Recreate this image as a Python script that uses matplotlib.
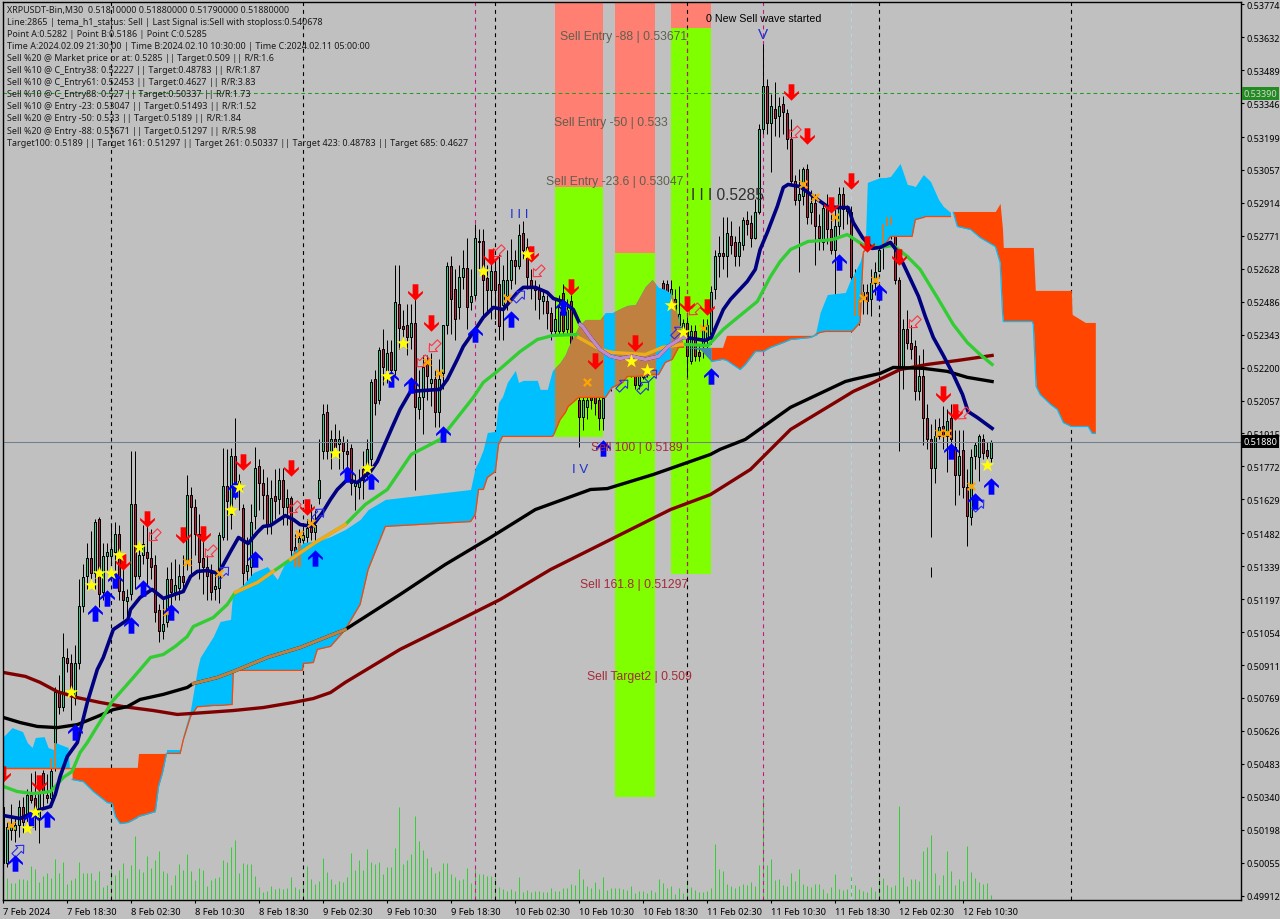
import numpy as np
import matplotlib
matplotlib.use("Agg")
import matplotlib.pyplot as plt
from matplotlib.path import Path
from matplotlib.patches import Rectangle
from matplotlib.transforms import Affine2D

# all prices are kept in points (1e-5), bars count from 7 Feb 2024 10:30 at 30 minutes
opens = [50298,50055,50198,50198,50220,50298,50255,50350,50333,50250,50445,50350,50337,50467,50796,50731,50940,50922,50770,50918,
         51165,51295,51373,51312,51542,51226,51382,51382,51399,51481,51230,51187,51221,51611,51295,51390,51399,51373,51343,51148,
         51057,51096,51282,51226,51247,51299,51356,51650,51594,51477,51373,51338,51312,51239,51247,51468,51689,51564,51815,51681,
         51590,51317,51338,51555,51772,51702,51650,51520,51642,51629,51711,51598,51633,51421,51338,51455,51468,51520,51486,51637,
         51837,52010,51837,51893,51871,51876,51837,51850,51685,51681,51759,51746,51802,52149,52062,52279,52192,52266,52192,52474,
         52379,52383,52335,52392,52019,52075,52214,52132,52149,52010,52179,52383,52639,52543,52461,52591,52630,52483,52517,52751,
         52747,52587,52535,52621,52561,52470,52509,52582,52665,52639,52782,52725,52582,52548,52535,52487,52487,52439,52357,52357,
         52522,52366,52487,52257,52062,51988,52028,52084,52071,52062,51980,52097,52127,52149,52184,52214,52201,52236,52170,52127,
         52158,52201,52192,52257,52257,52569,52561,52496,52496,52387,52374,52392,52227,52357,52266,52292,52322,52344,52539,52682,
         52699,52682,52769,52743,52686,52730,52838,52829,52764,52873,53233,53419,53259,53319,53289,53341,53302,53189,53007,52925,
         52942,53059,52873,52912,52812,52743,52894,52799,52712,52812,52951,52877,52873,52591,52422,52496,52530,52496,52569,52617,
         52725,52851,52851,52808,52582,52201,52366,52309,52292,52097,52162,51980,51893,51763,51902,51949,51902,51980,51858,51733,
         51841,51681,51551,51815,51811,51893,51841,51810]
highs = [50320,50229,50307,50250,50328,50341,50372,50445,50450,50372,50458,50437,50502,50814,50870,51052,50987,50957,51000,51282,
         51347,51442,51490,51546,51551,51442,51442,51520,51529,51520,51390,51239,51837,51837,51421,51520,51512,51499,51390,51174,
         51208,51334,51356,51369,51347,51390,51733,51681,51629,51564,51486,51390,51347,51304,51486,51854,51846,51854,51984,51737,
         51607,51468,51607,51858,51802,51759,51724,51715,51759,51767,51767,51672,51642,51477,51499,51520,51542,51607,51585,51889,
         52041,52041,51932,51954,51932,51902,51889,51871,51737,51759,51837,51889,52149,52192,52288,52366,52322,52322,52647,52647,
         52452,52474,52474,52496,52192,52257,52257,52262,52192,52236,52387,52656,52682,52626,52647,52712,52764,52626,52821,52799,
         52799,52647,52712,52669,52691,52647,52712,52756,52712,52821,52834,52764,52626,52582,52561,52539,52517,52461,52496,52517,
         52561,52496,52517,52279,52257,52127,52084,52127,52136,52106,52127,52179,52205,52236,52244,52257,52322,52331,52331,52257,
         52214,52227,52270,52301,52366,52582,52582,52582,52539,52552,52409,52418,52387,52387,52301,52409,52409,52552,52712,52769,
         52855,52855,52834,52769,52812,52851,52877,52860,52929,53254,53601,53449,53384,53440,53371,53376,53319,53276,53037,53059,
         53068,53081,52972,52951,52864,52907,52951,52864,52886,52981,52981,52907,52899,52626,52582,52561,52561,52626,52660,52864,
         52864,52886,52877,52821,52591,52409,52452,52387,52322,52257,52279,52041,51954,51976,51984,52032,52019,52041,51932,51932,
         51932,51759,51846,51880,51911,51911,51876,51885]
lows = [50025,50034,50155,50146,50168,50185,50229,50315,50198,50142,50298,50315,50298,50450,50697,50710,50883,50675,50740,50892,
        51143,51239,51282,51239,51161,51195,51325,51347,51325,51195,51109,51109,51195,51239,51282,51347,51252,51282,51096,51013,
        51022,51074,51143,51195,51195,51230,51325,51304,51390,51282,51217,51195,51195,51195,51182,51455,51455,51499,51629,51585,
        51217,51239,51273,51499,51585,51542,51477,51477,51542,51564,51520,51520,51325,51325,51317,51412,51412,51455,51434,51607,
        51802,51802,51759,51824,51759,51759,51715,51650,51585,51629,51629,51715,51759,51997,52041,52127,52132,52149,52170,52279,
        52301,52257,52279,51668,51976,51911,52062,52036,51945,51945,52106,52344,52344,52322,52409,52539,52366,52452,52496,52626,
        52409,52431,52409,52409,52322,52322,52452,52539,52561,52626,52669,52539,52496,52452,52409,52431,52366,52322,52344,52344,
        52344,52344,52236,52084,51858,51932,51976,52019,51997,51932,51932,52084,52097,52127,52149,52158,52184,52158,52106,52106,
        52149,52158,52170,52192,52236,52301,52409,52452,52366,52366,52344,52158,52214,52227,52227,52244,52279,52301,52496,52595,
        52626,52595,52691,52639,52639,52712,52777,52721,52756,52864,53211,53211,53046,53202,53198,53211,53146,52994,52907,52613,
        52907,52821,52821,52647,52712,52712,52734,52691,52452,52777,52799,52821,52353,52409,52387,52431,52431,52426,52517,52617,
        52626,52756,52756,52561,51837,52106,52279,52236,52062,52062,51867,51846,51468,51702,51889,51846,51746,51824,51603,51650,
        51637,51425,51520,51759,51707,51802,51789,51790]
closes = [50055,50211,50220,50216,50298,50233,50350,50328,50255,50359,50359,50337,50450,50796,50731,50948,50922,50775,50922,51165,
          51291,51373,51308,51529,51217,51382,51399,51412,51481,51230,51195,51208,51611,51295,51390,51434,51373,51338,51143,51057,
          51091,51282,51226,51260,51295,51269,51650,51598,51477,51356,51338,51295,51226,51252,51473,51685,51624,51815,51702,51707,
          51312,51343,51529,51763,51698,51646,51512,51633,51620,51711,51598,51633,51408,51356,51460,51473,51507,51486,51520,51711,
          52001,51837,51893,51858,51893,51837,51824,51702,51702,51715,51715,51846,52140,52049,52275,52201,52262,52192,52483,52370,
          52366,52335,52392,52028,52071,52205,52162,52149,52010,52149,52383,52639,52496,52409,52591,52634,52461,52509,52760,52743,
          52578,52535,52617,52535,52379,52582,52582,52665,52639,52773,52712,52591,52552,52535,52496,52509,52439,52357,52409,52465,
          52357,52452,52257,52149,51988,52062,52062,52062,52049,51980,52067,52127,52149,52192,52214,52192,52236,52170,52127,52170,
          52184,52170,52236,52214,52322,52539,52517,52539,52409,52431,52392,52249,52357,52249,52249,52379,52387,52530,52682,52699,
          52682,52782,52730,52686,52743,52838,52821,52760,52873,53233,53419,53259,53332,53280,53332,53306,53189,53007,52925,52951,
          53059,52855,52912,52812,52760,52890,52799,52712,52812,52951,52886,52894,52591,52422,52496,52530,52487,52569,52613,52712,
          52821,52812,52817,52582,52201,52366,52309,52279,52097,52162,51980,51893,51763,51902,51941,51902,51971,51889,51733,51819,
          51681,51555,51811,51867,51902,51832,51815,51880]
volumes = [34,21,16,16,20,20,19,33,30,17,23,26,21,40,26,37,15,19,21,37,26,26,26,19,28,12,14,29,24,29,36,21,34,63,30,27,43,31,39,48,
           28,26,14,24,35,29,45,28,19,31,29,13,19,21,22,39,37,52,59,26,36,35,35,23,12,7,8,13,10,11,10,11,22,12,10,17,33,20,15,18,
           41,27,20,15,18,17,22,46,29,39,29,50,37,35,37,25,32,32,51,92,35,39,45,83,58,49,41,32,26,28,36,36,25,22,19,20,31,16,30,25,
           25,23,23,21,12,10,8,10,8,22,7,9,7,8,8,7,7,11,8,8,11,11,15,14,30,20,13,11,17,10,22,9,11,11,11,10,9,13,6,8,
           8,6,9,7,20,16,11,13,5,11,6,20,12,9,7,7,8,11,55,30,28,15,13,11,13,15,14,17,13,34,100,34,40,19,20,14,13,26,18,30,
           15,13,12,15,15,10,6,12,25,10,9,10,25,14,10,8,7,12,8,21,21,14,12,14,93,22,13,20,20,18,48,52,64,26,14,24,48,28,14,20,
           18,53,27,21,17,15,16,4]

tema_bars = [0,4.2,9.2,11.8,13,14.2,16,18.5,21,23.5,25,27.5,31.2,31.8,34.2,37.2,40,45,46.8,48.5,51,53.8,56.8,58.8,61.2,63.5,65,66.8,70.5,72.5,
             74.2,77.2,79.8,81.8,83.5,86,88.5,91.8,93.5,97.2,99.2,101.8,109.2,111,113.5,115,118,120,122.5,125,128.5,130,133,136,137.5,139.8,142.5,144.2,
             144.8,146.8,149.2,151.8,154.2,157.2,160.5,163.8,166.2,169.8,170.5,175.5,177,180,181.8,186,188,189.2,191,193.5,195,196.2,199.2,202.5,206,208.5,211.2,212.5,214.8,217.2,
             219.2,221.8,223.5,226,228.8,230.5,232.5,235,237.5,239.8,241.2,243.5,247.2]
tema_vals = [50259,50246,50285,50298,50350,50428,50515,50575,50749,50892,50944,51065,51109,51152,51204,51239,51200,51230,51295,51317,51321,51308,51403,51464,51438,51486,51512,51516,51559,51542,
             51520,51512,51572,51629,51672,51715,51702,51750,51793,51941,52019,52097,52106,52149,52236,52292,52366,52418,52461,52452,52526,52548,52548,52526,52500,52487,52452,52387,
             52379,52331,52279,52249,52240,52249,52236,52249,52292,52331,52331,52318,52331,52452,52496,52574,52626,52712,52786,52899,52981,52994,52985,52942,52899,52894,52894,52829,52764,52717,
             52721,52743,52704,52613,52509,52422,52331,52253,52170,52084,52010,51984,51937]
green_bars = [0,3.5,7.5,11.8,13,15,17.2,19.2,21,23,25,27.2,32.5,36.8,40,43,46,47.5,52.5,56,58,63.5,67.5,71.8,78,85.5,90.5,96,102,109.2,117.5,120,123.5,129.2,133.5,137.5,143.5,
              143.8,149.2,152.2,160.5,164.8,169.8,176.2,180,183,188.5,191.8,194.2,196.8,201.2,205,207.5,211,214.8,219.2,222.5,226,229.2,233.5,237.5,241,244.2,247.2]
green_vals = [50385,50363,50354,50363,50385,50424,50450,50532,50575,50632,50688,50753,50857,50944,50957,50992,51035,51078,51117,51174,51226,51269,51317,51369,51442,51520,51607,51672,51824,51889,52071,52136,52184,52270,52322,52340,52344,
              52331,52279,52266,52257,52288,52301,52296,52366,52409,52487,52595,52660,52712,52747,52751,52756,52777,52734,52721,52730,52682,52626,52504,52387,52309,52257,52214]
black_bars = [0,4.2,8.5,13.5,18.5,23.5,27.5,31,34.2,40,46,47.5,53.5,57.5,63.5,66,74.2,85.5,99.2,110.5,121.8,133,146.8,151,162.5,176.8,179.2,185.5,196.8,210.5,212.5,219.2,222.5,230,236,241,247.2]
black_vals = [50684,50662,50645,50640,50653,50688,50718,50731,50762,50784,50814,50831,50857,50883,50926,50944,50987,51065,51217,51347,51464,51585,51672,51676,51737,51824,51846,51889,52028,52140,52149,52175,52201,52197,52184,52158,52140]
maroon_bars = [0,5.5,9.2,13.5,18.5,24.2,30,37.5,43.5,51,57.5,65,72.5,77.5,81.8,85.5,99.2,111.8,124.2,136.8,151.8,166.8,176.8,186.8,196.8,209.2,212.5,217.5,224.2,231,238.5,247.2]
maroon_vals = [50879,50862,50836,50796,50770,50749,50731,50714,50697,50706,50714,50727,50749,50766,50792,50836,50979,51087,51195,51325,51455,51585,51650,51759,51932,52062,52097,52136,52192,52214,52231,52253]

blue1_bars = [0,2.2,4.8,6,7.2,8,10.2,11.2,12.5,13,16.2,16.5]
blue1_top = [50601,50640,50623,50575,50554,50597,50601,50554,50545,50575,50554,50467]
blue1_bot = [50467] * 12
blue2_bars = [40.8,44.2,45,46.8,48.5,49.2,52.5,54.2,56.8,57.2,57.5,60,62.5,66,68.5,70,72.5,74.8,75,77.5,78.5,81.8,85.5,89.2,91.2,95.5,116.8,118,118.8,120,
              121,123,123.8,124.8,126,128,128.8,130,133.5,134.2,136,137.2,137.5,139.2,140.5,141.2,143.8,145.5,149.2,150.5,152.2,154.8,156,158,160.5,162.2,163.8,165.5,167.2,168.8,170]
blue2_top = [50545,50545,50610,50718,50892,50944,51035,51100,51109,51195,51226,51260,51312,51338,51282,51338,51403,51438,51442,51447,51447,51468,51499,51542,51585,51629,51672,51767,51793,51846,
             51919,51924,52049,52075,52136,52188,52136,52145,52145,52106,52106,52184,52192,52223,52257,52288,52379,52409,52409,52439,52439,52461,52470,52474,52552,52582,52548,52539,52517,52409,52288]
blue2_bot = [50528,50528,50588,50688,50731,50731,50736,50736,50740,50740,50888,50888,50888,50888,50888,50888,50888,50888,50918,50922,50979,50992,51065,51174,51325,51512,51533,51564,51672,51672,
             51724,51750,51867,51902,51902,51902,51902,51902,51902,51902,51902,51902,51906,51976,52006,52032,52071,52071,52071,52071,52114,52136,52162,52162,52166,52170,52170,52223,52236,52288,52288]
blue3_bars = [203,204.2,205.5,206,210.5,211.8,212.2,214.2,215,215.5,216,219.2,220.5,221.8,224.2,226,227.2,228,230,230.5,231.8,233.8,235,236.8]
blue3_top = [52344,52439,52496,52517,52526,52582,52591,52660,52712,52743,53003,53024,53024,53029,53085,52994,52990,52985,53037,53029,53007,52929,52899,52873]
blue3_bot = [52344,52353,52357,52357,52357,52357,52357,52396,52699,52712,52712,52725,52734,52769,52769,52769,52769,52842,52851,52855,52855,52855,52855,52855]
cross_bars = [170,174.2,177]
cross_top = [52288,52288,52288]
cross_bot = [52288,52279,52227]
orange1_bars = [17.2,20,22.5,26,27.2,28,29.2,31.2,33.5,33.8,35.5,38,38.8,39.8,40.8]
orange1_top = [50467] * 9 + [50528] * 6
orange1_bot = [50415,50406,50363,50315,50311,50255,50224,50229,50250,50255,50263,50276,50385,50445,50528]
orange2_bars = [177,179.8,180.8,184.2,185.5,188,190,191.8,195,196.8,201.8,203.5]
orange2_top = [52288,52288,52340,52340,52340,52340,52340,52340,52340,52340,52340,52344]
orange2_bot = [52227,52236,52232,52192,52214,52270,52270,52288,52309,52322,52331,52344]
orange3_bars = [237.5,238.5,241.8,244.2,248,249.2,249.8,250,257.2,257.5,258,258.2,259.2,261.8,263.5,265,267,267.2,270.5,271.2,272.2,273]
orange3_top = [52877,52877,52877,52877,52877,52912,52800,52721,52721,52721,52535,52535,52535,52535,52535,52535,52535,52431,52396,52396,52396,52396]
orange3_bot = [52873,52812,52799,52764,52725,52656,52439,52400,52400,52387,52192,52119,52084,52041,52019,51962,51945,51945,51945,51945,51915,51915]

# signal columns: first bar, last bar, lowest, border, top
columns = [(138, 150, 51898, 52981, 53790), (153, 163, 50341, 52699, 53790), (167, 177, 51304, 53670, 53790)]
vline_bars = [27, 75, 118, 123, 171, 190, 212, 219, 267]
vline_cols = ["black", "black", "#c71585", "black", "black", "#c71585", "#add8e6", "black", "black"]

# wick parts that the cloud tints brown: bar, low, high
tinted_bars = [(12, 50467, 50510), (13, 50467, 50575), (73, 51338, 51403), (74, 51338, 51442),
               (213, 52422, 52591), (214, 52422, 52496), (215, 52496, 52530), (220, 52725, 52821),
               (221, 52812, 52851), (222, 52817, 52851)]
stray_bar, stray_low, stray_high = 232, 51291, 51338

sell_bars = [0,9,30,36,45,50,60,72,76,103,107,122,132,142,148,158,171,176,197,201,212,207,216,224,235,238]
sell_vals = [50437,50402,51356,51542,51473,51477,51789,51767,51598,52530,52392,52678,52691,52548,52231,52305,52478,52461,53393,53202,53011,52903,52738,52678,52088,52006]
buy_bars = [3,7,11,18,23,26,28,32,35,42,58,63,78,86,92,97,102,110,118,127,140,150,177,209,219,237,243,247]
buy_vals = [50055,50242,50242,50623,51135,51200,51278,51083,51247,51143,51672,51369,51373,51737,51707,52149,52127,51911,52344,52409,52465,51854,52162,52660,52526,51837,51620,51689]
star_bars = [6,8,17,22,24,27,29,34,57,59,83,91,96,100,120,131,157,161,167,170,246]
star_vals = [50207,50276,50796,51260,51312,51312,51390,51421,51581,51681,51832,51767,52162,52309,52617,52691,52227,52192,52470,52353,51780]
cross_mark_bars = [2,41,46,54,74,77,106,109,126,140,146,175,200,203,208,215,218,234,236,242]
cross_mark_vals = [50216,51139,51356,51308,51477,51525,52223,52175,52504,52461,52136,52370,52994,52938,52855,52504,52578,51915,51915,51685]
open_down_bars = [37.8,51.8,72.8,104.8,107.8,123.8,133.8,172.8,197.8,227.8,240]
open_down_vals = [51473,51403,51594,52227,52292,52704,52617,52452,53219,52396,52001]
open_up_bars = [3.8,55,78.8,129,154.8,160,162,168.5,243.8]
open_up_vals = [50107,51312,51564,52509,52123,52114,52166,52353,51603]

info_lines = [
    "XRPUSDT-Bin,M30  0.51810000 0.51880000 0.51790000 0.51880000",
    "Line:2865 | tema_h1_status: Sell | Last Signal is:Sell with stoploss:0.540678",
    "Point A:0.5282 | Point B:0.5186 | Point C:0.5285",
    "Time A:2024.02.09 21:30:00 | Time B:2024.02.10 10:30:00 | Time C:2024.02.11 05:00:00",
    "Sell %20 @ Market price or at: 0.5285 || Target:0.509 || R/R:1.6",
    "Sell %10 @ C_Entry38: 0.52227 || Target:0.48783 || R/R:1.87",
    "Sell %10 @ C_Entry61: 0.52453 || Target:0.4627 || R/R:3.83",
    "Sell %10 @ C_Entry88: 0.527 || Target:0.50337 || R/R:1.73",
    "Sell %10 @ Entry -23: 0.53047 || Target:0.51493 || R/R:1.52",
    "Sell %20 @ Entry -50: 0.533 || Target:0.5189 || R/R:1.84",
    "Sell %20 @ Entry -88: 0.53671 || Target:0.51297 || R/R:5.98",
    "Target100: 0.5189 || Target 161: 0.51297 || Target 261: 0.50337 || Target 423: 0.48783 || Target 685: 0.4627",
]
level_labels = [
    ("Sell Entry -88 | 0.53671", 155, 53637, "#5f5f50"),
    ("Sell Entry -50 | 0.533", 152, 53263, "#5f5f50"),
    ("Sell Entry -23.6 | 0.53047", 152.8, 53007, "#5f5f50"),
    ("Sell 100 | 0.5189", 158.5, 51856, "#a52a3a"),
    ("Sell 161.8 | 0.51297", 157.8, 51261, "#a52a3a"),
    ("Sell Target2 | 0.509", 159, 50862, "#a52a3a"),
]
y_ticks = [53774,53632,53489,53346,53199,53057,52914,52771,52628,52486,52343,52200,52057,51915,51772,51629,51482,51339,51197,51054,50911,50769,50626,50483,50340,50198,50055,49912]
x_labels = ["7 Feb 2024","7 Feb 18:30","8 Feb 02:30","8 Feb 10:30","8 Feb 18:30","9 Feb 02:30","9 Feb 10:30","9 Feb 18:30",
            "10 Feb 02:30","10 Feb 10:30","10 Feb 18:30","11 Feb 02:30","11 Feb 10:30","11 Feb 18:30","12 Feb 02:30","12 Feb 10:30"]

BG = "#c0c0c0"
SKY = "#00bfff"
ORANGE_RED = "#ff4500"
BROWN = "#bf8040"
LIME = "#7fff00"
FONT = "Noto Sans"


def pts(values):
    return np.asarray(values, dtype=float) / 1e5


def segment(bars, vals, lo, hi):
    bars = np.asarray(bars, dtype=float)
    keep = (bars >= lo) & (bars <= hi)
    return bars[keep], pts(vals)[keep]


fig = plt.figure(figsize=(12.8, 9.2), dpi=100, facecolor=BG)
ax = fig.add_axes([2.5 / 1280, 1 - 900.5 / 920, 1238 / 1280, 898 / 920], facecolor=BG)
ax.set_xlim(-0.2, 309.3)
ax.set_ylim(0.49895, 0.53787)

# volume sits in its own scale on the bottom of the window
vol_ax = ax.twinx()
vol_ax.set_ylim(-1, 897)
vol_ax.axis("off")
vol_lines = vol_ax.vlines(range(len(volumes)), 0, volumes, color="#38cc38", lw=0.72)
vol_lines.set_snap(True)

ax.set_zorder(vol_ax.get_zorder() + 1)
ax.patch.set_visible(False)
fig.patch.set_facecolor(BG)

# signal columns, salmon above and lime below
rects = []
for first, last, low, border, top in columns:
    ax.add_patch(Rectangle((first, low / 1e5), last - first, (border - low) / 1e5, color=LIME, lw=0, zorder=1))
    ax.add_patch(Rectangle((first, border / 1e5), last - first, (top - border) / 1e5, color="#ff8072", lw=0, zorder=1))
    rects.append(Rectangle((first, low / 1e5), last - first, (border - low) / 1e5, transform=ax.transData))

for bar, col in zip(vline_bars, vline_cols):
    ax.axvline(bar, color=col, lw=0.8, ls=(0, (3.5, 3.5)), zorder=1.5)
# the black separator turns magenta over the lime column
over_lime = ax.axvline(vline_bars[4], color="#c71585", lw=0.8, ls=(0, (3.5, 3.5)), zorder=1.6)
over_lime.set_clip_path(rects[2])

# candles
o, h, l, c = pts(opens), pts(highs), pts(lows), pts(closes)
x = np.arange(len(o))
wicks = ax.vlines(x, l, h, color="black", lw=0.72, zorder=2)
wicks.set_snap(True)
stray = ax.vlines(stray_bar, stray_low / 1e5, stray_high / 1e5, color="black", lw=0.72, zorder=2)
stray.set_snap(True)
up = c >= o
ax.bar(x[up], (c - o)[up], bottom=o[up], width=0.5, color="#2ecf8a", edgecolor="black", lw=0.72, zorder=2.1)
ax.bar(x[~up], (o - c)[~up], bottom=c[~up], width=0.5, color="#c02040", edgecolor="black", lw=0.72, zorder=2.1)

# cloud
for bars, top, bot in [(blue1_bars, blue1_top, blue1_bot), (blue2_bars, blue2_top, blue2_bot), (blue3_bars, blue3_top, blue3_bot)]:
    ax.fill_between(bars, pts(bot), pts(top), color=SKY, lw=0, zorder=3)
    ax.plot(bars, pts(bot), color=ORANGE_RED, lw=0.9, zorder=3.3)
    for rect in rects:
        tint = ax.fill_between(bars, pts(bot), pts(top), color=BROWN, lw=0, zorder=3.1)
        tint.set_clip_path(rect)
for bars, top, bot in [(orange1_bars, orange1_top, orange1_bot), (orange2_bars, orange2_top, orange2_bot), (orange3_bars, orange3_top, orange3_bot)]:
    ax.fill_between(bars, pts(bot), pts(top), color=ORANGE_RED, lw=0, zorder=3)
    ax.plot(bars, pts(bot), color=SKY, lw=0.9, zorder=3.3)
ax.plot(orange1_bars[:9], pts(orange1_top[:9]), color=ORANGE_RED, lw=0.9, zorder=3.3)
ax.plot([0, 17.2], [0.50467, 0.50467], color=ORANGE_RED, lw=0.9, zorder=3.3)
ax.fill_between(cross_bars, pts(cross_bot), pts(cross_top), color="#4682b4", lw=0, zorder=3.2)

for bar, low, high in tinted_bars:
    ax.bar(bar, (high - low) / 1e5, bottom=low / 1e5, width=0.6, color=BROWN, lw=0, zorder=3.4)

# moving averages, recoloured where they cross the cloud
ax.plot(maroon_bars, pts(maroon_vals), color="#800000", lw=2.4, zorder=5)
ax.plot(black_bars, pts(black_vals), color="black", lw=2.4, zorder=5)
bx, by = segment(black_bars, black_vals, 47.5, 85.5)
ax.plot(bx, by, color=BROWN, lw=2.4, zorder=5.1)
ax.plot(green_bars, pts(green_vals), color="#32cd32", lw=2.4, zorder=5.2)
for lo, hi in [(58, 67.5), (71.8, 85.5), (143.8, 169.8)]:
    gx, gy = segment(green_bars, green_vals, lo, hi)
    ax.plot(gx, gy, color="#f5a81c", lw=2.4, zorder=5.3)
ax.plot(tema_bars, pts(tema_vals), color="#000080", lw=2.6, zorder=5.4)
tx, ty = segment(tema_bars, tema_vals, 144.2, 170.5)
ax.plot(tx, ty, color="#c28ac8", lw=2.6, zorder=5.5)

ax.axhline(0.5339, color="#1e9e1e", lw=0.75, ls=(0, (3.5, 3)), zorder=4)
ax.axhline(0.5188, color="#708090", lw=0.75, zorder=4)

# signal markers
up_arrow = Path([(0, 1), (0.9, 0.1), (0.9, -0.2), (0.35, 0.25), (0.35, -1), (-0.35, -1), (-0.35, 0.25), (-0.9, -0.2), (-0.9, 0.1), (0, 1)], closed=True)
down_arrow = up_arrow.transformed(Affine2D().scale(1, -1))
open_shape = Path([(0, 1), (0.75, 0.2), (0.35, 0.2), (0.35, -0.9), (-0.35, -0.9), (-0.35, 0.2), (-0.75, 0.2), (0, 1)], closed=True)
ax.scatter(sell_bars, pts(sell_vals), marker=down_arrow, s=140, color="#ff0000", lw=0, zorder=6.2)
ax.scatter(buy_bars, pts(buy_vals), marker=up_arrow, s=140, color="#0000ff", lw=0, zorder=6.2)
ax.scatter(open_down_bars, pts(open_down_vals), marker=open_shape.transformed(Affine2D().rotate_deg(135)),
           s=90, facecolors="none", edgecolors="#ff3344", lw=0.8, zorder=6)
ax.scatter(open_up_bars, pts(open_up_vals), marker=open_shape.transformed(Affine2D().rotate_deg(-45)),
           s=90, facecolors="none", edgecolors="#2a2aee", lw=0.8, zorder=6)
ax.scatter(cross_mark_bars, pts(cross_mark_vals), marker="x", s=28, color="#ffa500", lw=1.6, zorder=6.1)
ax.scatter(star_bars, pts(star_vals), marker="*", s=110, color="#ffff00", lw=0, zorder=6.3)

# labels on the chart
for text, bar, val, col in level_labels:
    ax.text(bar, val / 1e5, text, color=col, fontsize=8.7, family="Liberation Sans", ha="center", va="center", zorder=7)
ax.text(190.2, 0.53715, "0 New Sell wave started", color="black", fontsize=7.7, family="Liberation Sans", ha="center", va="center", zorder=7)
ax.text(190, 0.53645, "V", color="#2030d0", fontsize=11, family="Liberation Sans", ha="center", va="center", zorder=7)
ax.text(181, 0.52949, "I I I 0.5285", color="#303030", fontsize=11.2, family="Liberation Sans", ha="center", va="center", zorder=7)
ax.text(129, 0.52866, "I I I", color="#2030d0", fontsize=9.5, family="Liberation Sans", ha="center", va="center", zorder=7)
ax.text(144.2, 0.51762, "I V", color="#2030d0", fontsize=9.5, family="Liberation Sans", ha="center", va="center", zorder=7)

for n, line in enumerate(info_lines):
    fig.text(7 / 1280, 1 - (10.5 + n * 12.05) / 920, line, color="#1a1a1a", fontsize=6.45, family=FONT, va="center", zorder=8)

# price and time scales
ax.yaxis.tick_right()
ax.set_yticks(pts(y_ticks))
ax.set_yticklabels([f"{v / 1e5:.5f}" for v in y_ticks], fontsize=6.5, family=FONT, color="black")
ax.tick_params(axis="y", length=2.5, width=0.8, pad=1.5, color="black")
ax.set_xticks(np.arange(len(x_labels)) * 16)
ax.set_xticklabels(x_labels, fontsize=6.7, family=FONT, color="black", ha="left")
ax.tick_params(axis="x", length=2.5, width=0.8, pad=3, color="black")
for spine in ax.spines.values():
    spine.set_linewidth(1.0)
    spine.set_zorder(9)

for val, text, face, col in [(0.5339, "0.53390", "#228b22", "#d8d8d8"), (0.5188, "0.51880", "black", "white")]:
    ax.annotate(text, xy=(1241.5 / 1280, val), xycoords=("figure fraction", "data"), xytext=(1.5, 0), textcoords="offset points",
                fontsize=6.5, family=FONT, color=col, va="center", ha="left", annotation_clip=False, zorder=10,
                bbox=dict(boxstyle="square,pad=0.22", fc=face, ec="none"))

fig.savefig("out.png", dpi=100, facecolor=BG)
